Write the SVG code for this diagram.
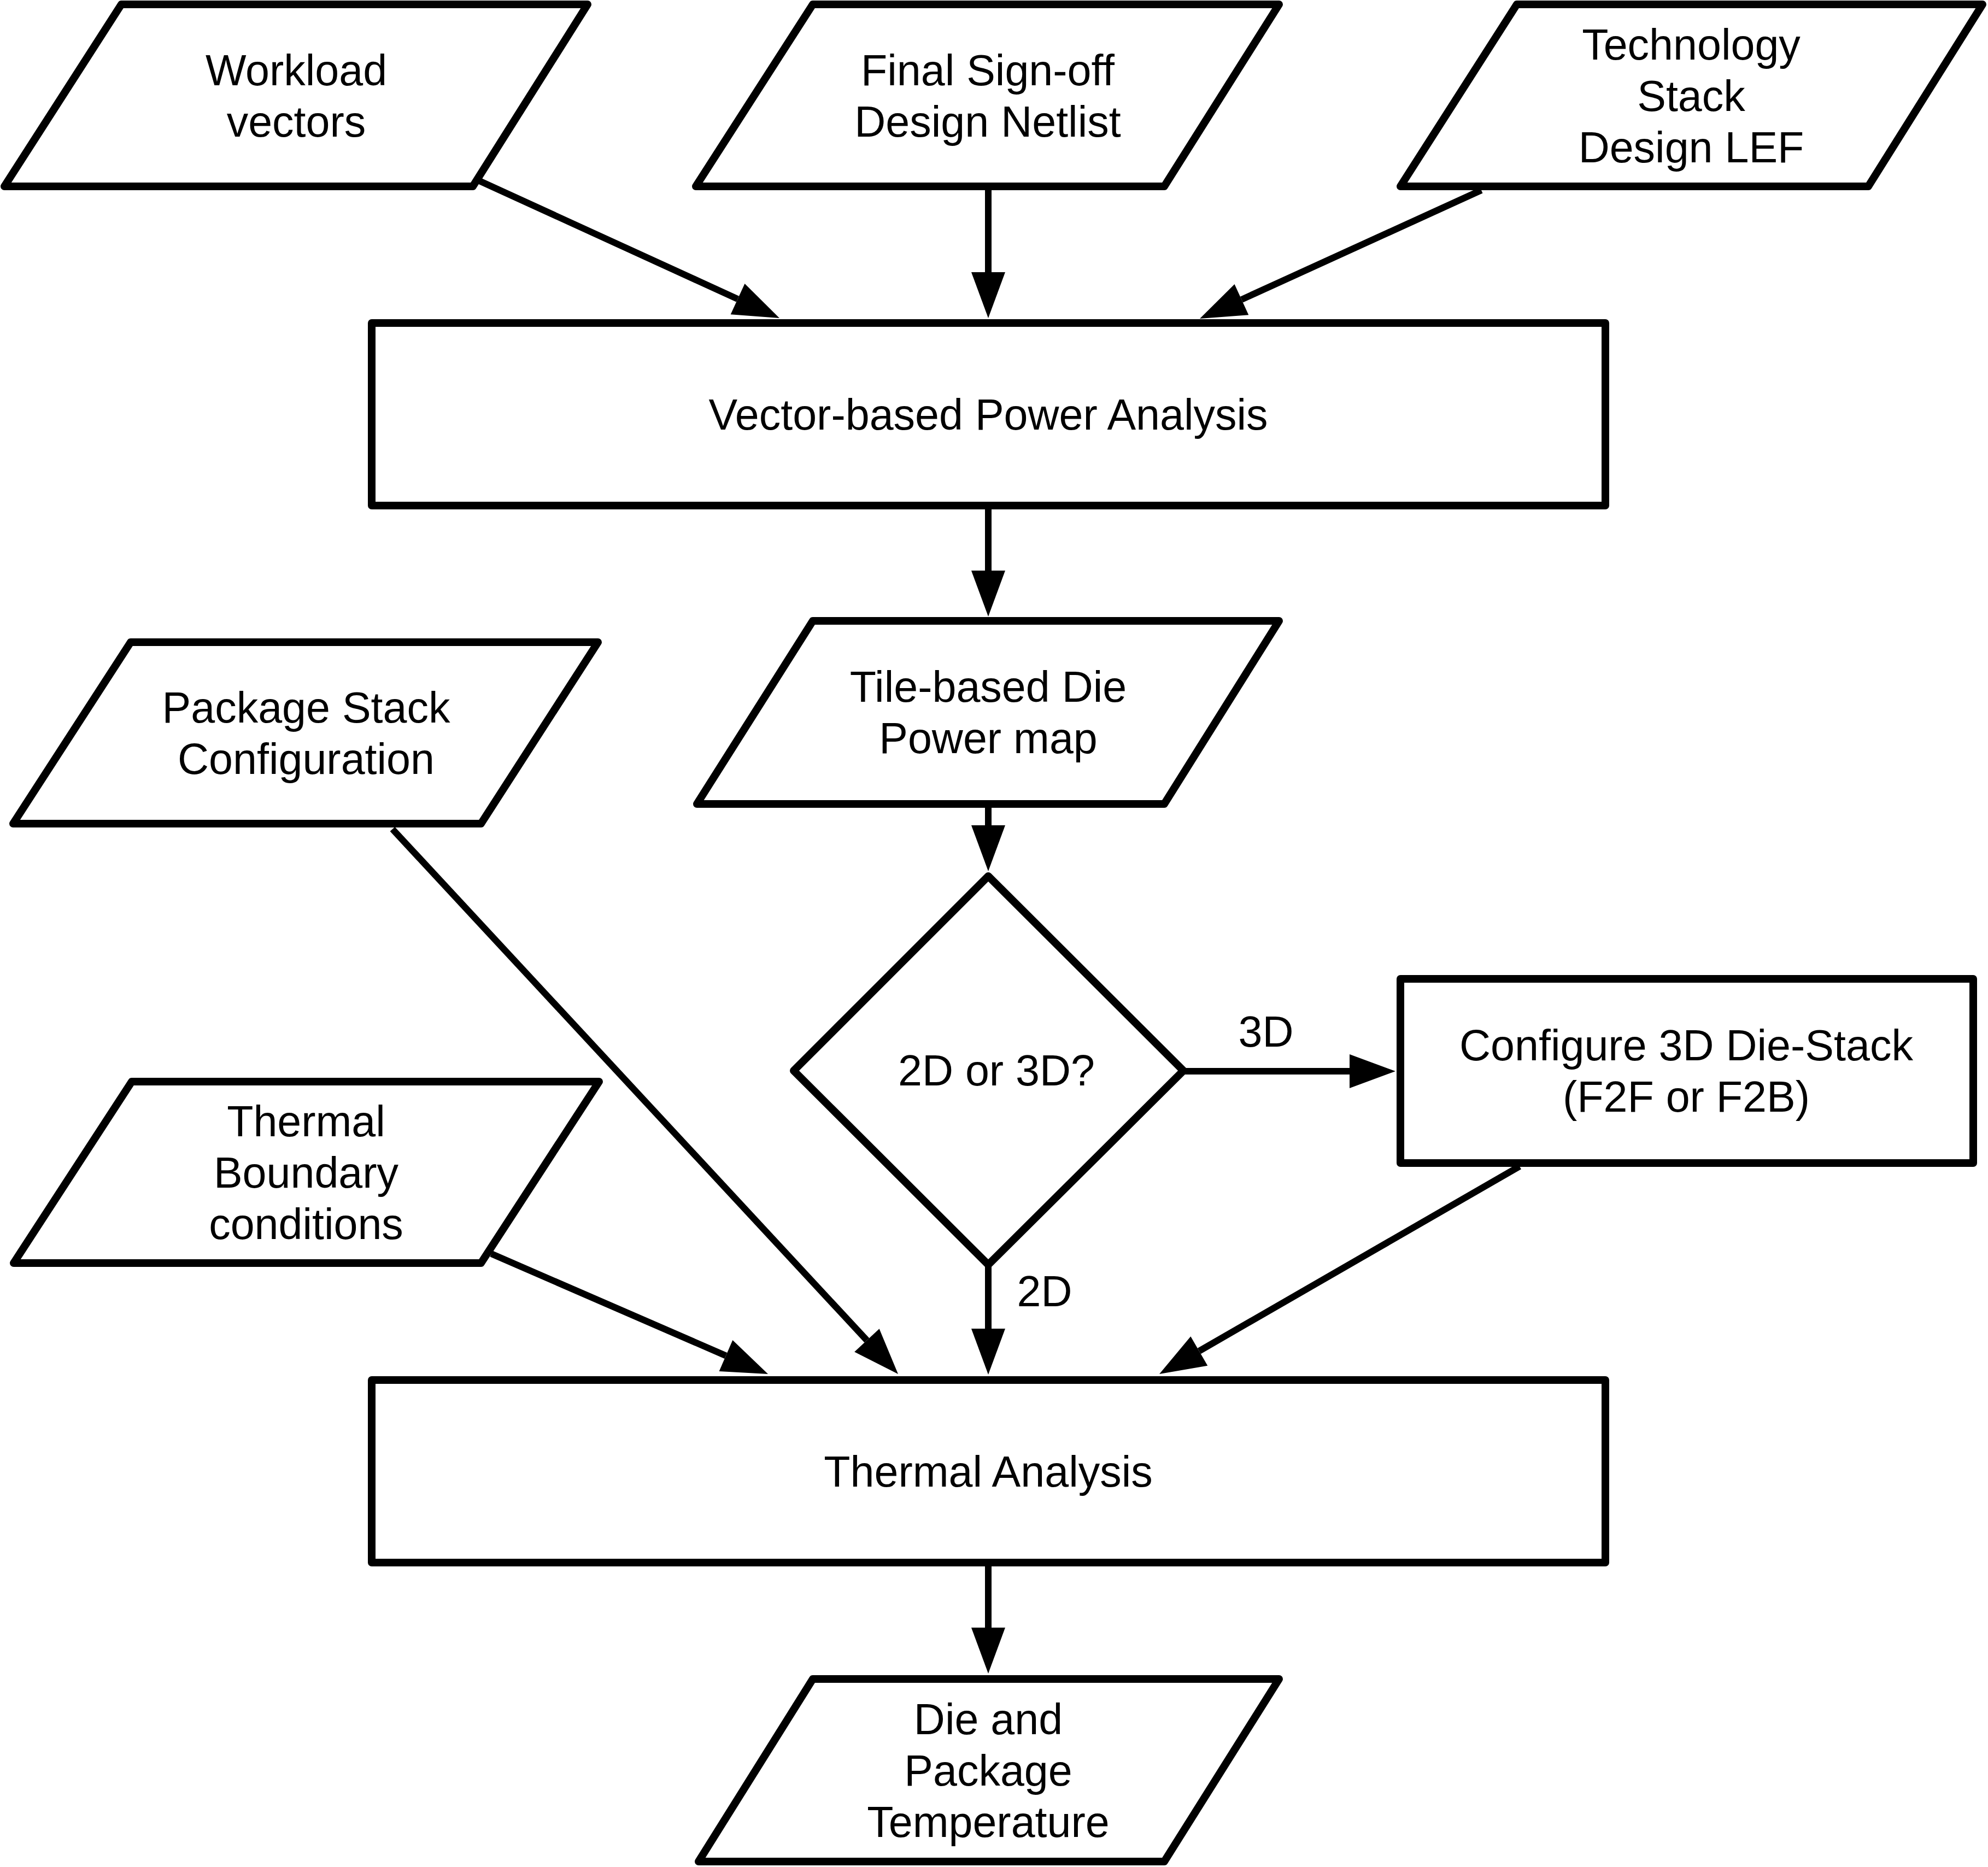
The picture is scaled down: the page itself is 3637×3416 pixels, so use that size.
<svg xmlns="http://www.w3.org/2000/svg" width="3637" height="3416" viewBox="0 0 3637 3416">
<style>
.n{fill:#fff;stroke:#000;stroke-width:14;stroke-linejoin:round}
.t{font-family:"Liberation Sans",Arial,Helvetica,sans-serif;font-size:79px;fill:#000;text-anchor:middle}
.c{fill:none;stroke:#000;stroke-width:12;marker-end:url(#ah)}
</style>
<defs>
<marker id="ah" markerUnits="userSpaceOnUse" markerWidth="90" markerHeight="66" viewBox="0 -33 90 66" refX="0" refY="0" orient="auto" overflow="visible">
<path d="M0,-31 L84,0 L0,31 Z" fill="#000"/>
</marker>
</defs>
<rect width="3637" height="3416" fill="#fff"/>
<g id="connectors">
<path class="c" d="M875,330 L1349.6,547.1"/>
<path class="c" d="M1808,341 L1808,498"/>
<path class="c" d="M2710,348 L2271.4,548.1"/>
<path class="c" d="M1808,925 L1808,1044"/>
<path class="c" d="M1808,1471 L1808,1510"/>
<path class="c" d="M2166,1960 L2469,1960"/>
<path class="c" d="M1808,2315 L1808,2431"/>
<path class="c" d="M2780,2134 L2193.8,2472"/>
<path class="c" d="M718,1517 L1585.9,2452.4"/>
<path class="c" d="M899,2294 L1328,2480.5"/>
<path class="c" d="M1808,2859 L1808,2978"/>
<text class="t" x="2316" y="1915">3D</text>
<text class="t" x="1911" y="2390">2D</text>
</g>
<g id="workload">
<polygon class="n" points="222,8 1075,8 865,341 8,341"/>
<text class="t" x="542" y="156">Workload</text>
<text class="t" x="542" y="250">vectors</text>
</g>
<g id="netlist">
<polygon class="n" points="1487,8 2340,8 2130,341 1273,341"/>
<text class="t" x="1807" y="156">Final Sign-off</text>
<text class="t" x="1807" y="250">Design Netlist</text>
</g>
<g id="tech">
<polygon class="n" points="2775,8 3627,8 3418,341 2562,341"/>
<text class="t" x="3094" y="109">Technology</text>
<text class="t" x="3094" y="203">Stack</text>
<text class="t" x="3094" y="297">Design LEF</text>
</g>
<g id="power">
<rect class="n" x="680" y="591" width="2257" height="334"/>
<text class="t" x="1808" y="786">Vector-based Power Analysis</text>
</g>
<g id="tile">
<polygon class="n" points="1487,1136 2340,1136 2130,1471 1275,1471"/>
<text class="t" x="1808" y="1284">Tile-based Die</text>
<text class="t" x="1808" y="1378">Power map</text>
</g>
<g id="package">
<polygon class="n" points="239,1175 1094,1175 880,1507 24,1507"/>
<text class="t" x="560" y="1322">Package Stack</text>
<text class="t" x="560" y="1416">Configuration</text>
</g>
<g id="decision">
<polygon class="n" points="1808,1603 2165,1959 1808,2314 1452,1959"/>
<text class="t" x="1823" y="1986">2D or 3D?</text>
</g>
<g id="configure">
<rect class="n" x="2562" y="1791" width="1048" height="337"/>
<text class="t" x="3085" y="1940">Configure 3D Die-Stack</text>
<text class="t" x="3085" y="2034">(F2F or F2B)</text>
</g>
<g id="boundary">
<polygon class="n" points="241,1979 1096,1979 880,2311 25,2311"/>
<text class="t" x="560" y="2079">Thermal</text>
<text class="t" x="560" y="2173">Boundary</text>
<text class="t" x="560" y="2267">conditions</text>
</g>
<g id="thermal">
<rect class="n" x="680" y="2525" width="2257" height="334"/>
<text class="t" x="1808" y="2720">Thermal Analysis</text>
</g>
<g id="temperature">
<polygon class="n" points="1487,3072 2340,3072 2130,3406 1278,3406"/>
<text class="t" x="1808" y="3173">Die and</text>
<text class="t" x="1808" y="3267">Package</text>
<text class="t" x="1808" y="3361">Temperature</text>
</g>
</svg>
